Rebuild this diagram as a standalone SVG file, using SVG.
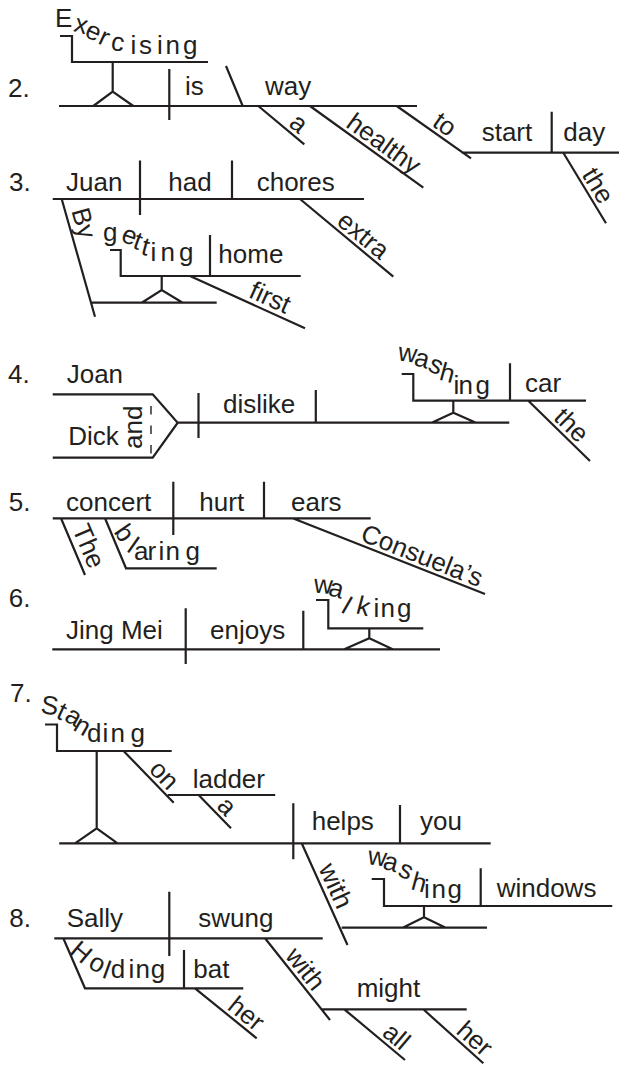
<svg xmlns="http://www.w3.org/2000/svg" width="619" height="1066" viewBox="0 0 619 1066">
<style>
.w{font-family:"Liberation Sans",Arial,Helvetica,sans-serif;font-size:26px;fill:#231f20}
.l{stroke:#231f20;stroke-width:2.2;fill:none}
.d{stroke:#231f20;stroke-width:1.4;fill:none;stroke-dasharray:8.5 11}
</style>
<rect width="619" height="1066" fill="#ffffff"/>
<g id="connectors">
<g id="lines-2">
<path class="l" d="M59,106 H417 M60,36 H72 V62 H208 M112.7,62 V91.7 M93.3,106 L112.7,91.7 L133.3,106 M169.3,69 V120 M226,66 L242.7,106 M258.3,106 L304.3,144.3 M310,106 L423.3,187.7 M396.7,106 L471,158.3 M461.7,152.7 H619 M551.7,111.7 V152.7 M563.3,152.7 L606,223.3"/>
</g>
<g id="lines-3">
<path class="l" d="M52.7,199 H364 M140,160.5 V215 M232,160.5 V199 M300,199 L393.3,276.7 M61.7,199 L95,316.7 M91,302.7 H216.7 M161.7,276 V290 M141.7,302.7 L161.7,290 L182.7,302.7 M110,250 H120.7 V276 H300.7 M210,235 V276 M190,276 L305,328.3"/>
</g>
<g id="lines-4">
<path class="l" d="M52.7,394.3 H152.7 L177.7,422.7 L152.7,457.7 H52.7 M177.7,422.7 H509.3 M198.5,393 V438 M315.8,390 V422.7 M453.3,400.7 V412.7 M431.7,422.7 L453.3,412.7 L476,422.7 M401.7,374 H413.3 V400.7 H586 M510,363.3 V400.7 M528.3,400.7 L590,461"/>
<path class="d" d="M151,406 V456"/>
</g>
<g id="lines-5">
<path class="l" d="M52.7,518.3 H370.7 M173.3,481.7 V535 M264,481.7 V518.3 M292.7,518.3 L485,594 M61,518.3 L85,575 M105,518.3 L126,568.3 H216.7"/>
</g>
<g id="lines-6">
<path class="l" d="M52.3,649.3 H440 M185.7,608.3 V664 M303.3,610.7 V649.3 M316,600 H328.3 V628.3 H423.3 M369.3,628.3 V638.3 M344.3,649.3 L369.3,638.3 L392.7,649.3"/>
</g>
<g id="lines-7">
<path class="l" d="M45,724.5 H57 V751 H171.7 M96.7,751 V828.3 M75,843.3 L96.7,828.3 L117.6,843.3 M59.2,843.3 H490.7 M123.6,751 L173.7,802.7 M167.8,795 H275.2 M198.6,795 L231,828.3 M293.3,803.3 V859.3 M400,805 V843.3 M301.7,843.3 L347.5,945 M341.7,927.7 H487 M424,906 V917.3 M402.7,927.7 L424,917.3 L445.7,927.7 M371.7,879 H384 V906 H612.3 M480.7,868.3 V906"/>
</g>
<g id="lines-8">
<path class="l" d="M54.3,938.3 H322.7 M169.3,891.7 V956 M63.3,938.3 L85,988.3 H243.3 M184,950 V988.3 M195,988.3 L256.7,1038.3 M265,938.3 L330,1020 M321,1009.3 H466.7 M344.3,1009.3 L405,1060 M423.3,1009.3 L483.3,1063.3"/>
</g>
</g>
<g id="sentence-2">
<text class="w" x="8" y="97">2.</text>
<text class="w" x="55 72.7 83.5 97 110 130.5 139 157 165.5 183" y="26.7 31 36 43 49.5 54.3 54.3 54.3 54.3 54.3" rotate="0 15 25 25 10 0 0 0 0 0">Exercising</text>
<text class="w" x="185" y="95">is</text>
<text class="w" x="265" y="95">way</text>
<text class="w" transform="translate(258.3,106) rotate(39.8)" x="35" y="-4">a</text>
<text class="w" transform="translate(310,106) rotate(35.8)" x="40" y="-4">healthy</text>
<text class="w" transform="translate(396.7,106) rotate(35.1)" x="39" y="-4">to</text>
<text class="w" x="481.7" y="141">start</text>
<text class="w" x="563.3" y="141">day</text>
<text class="w" transform="translate(563.3,152.7) rotate(58.8)" x="28" y="-4">the</text>
</g>
<g id="sentence-3">
<text class="w" x="9" y="190.7">3.</text>
<text class="w" x="66" y="190.7">Juan</text>
<text class="w" x="168.3" y="190.7">had</text>
<text class="w" x="256.7" y="190.7">chores</text>
<text class="w" transform="translate(300,199) rotate(39.8)" x="43" y="-4">extra</text>
<text class="w" transform="translate(61.7,199) rotate(74.2)" x="14" y="-6">By</text>
<text class="w" x="103 120 131.7 140 150.5 160.5 179" y="240.5 241 247.7 254 261 261 261" rotate="0 20 20 15 0 0 0">getting</text>
<text class="w" x="218.3" y="263.3">home</text>
<text class="w" transform="translate(190,276) rotate(24.5)" x="61" y="-5">first</text>
</g>
<g id="sentence-4">
<text class="w" x="8" y="383.3">4.</text>
<text class="w" x="66.7" y="383.3">Joan</text>
<text class="w" x="68.3" y="445">Dick</text>
<text class="w" transform="translate(142,449) rotate(-90)" x="0" y="0">and</text>
<text class="w" x="223" y="413.3">dislike</text>
<text class="w" x="397.3 413 426.7 438.3 453.5 458.5 475.5" y="360.3 365 370 379.5 393.5 393.5 393.5" rotate="8 15 25 15 0 0 0">washing</text>
<text class="w" x="525" y="391.7">car</text>
<text class="w" transform="translate(528.3,400.7) rotate(44.3)" x="30" y="-4">the</text>
</g>
<g id="sentence-5">
<text class="w" x="8.7" y="511">5.</text>
<text class="w" x="66" y="511">concert</text>
<text class="w" x="199.3" y="511">hurt</text>
<text class="w" x="291" y="511">ears</text>
<text class="w" transform="translate(292.7,518.3) rotate(21.5)" x="70" y="-4">Consuela’s</text>
<text class="w" transform="translate(61,518.3) rotate(67)" x="14" y="-6">The</text>
<text class="w" x="113.2 125.8 134 147.5 158.5 165.5 185.5" y="532.1 550.7 560 560 560 560 560" rotate="55 35 0 0 0 0 0">blaring</text>
</g>
<g id="sentence-6">
<text class="w" x="8.7" y="607">6.</text>
<text class="w" x="66" y="639.3">Jing Mei</text>
<text class="w" x="210" y="639.3">enjoys</text>
<text class="w" x="313.3 327.3 340 355 373.5 380.5 397" y="592.5 595 611.7 613 617.3 617.3 617.3" rotate="5 15 30 15 0 0 0">walking</text>
</g>
<g id="sentence-7">
<text class="w" x="10" y="702">7.</text>
<text class="w" x="40 55 63.3 72 87 102.5 110.5 130.5" y="713 717.5 720 729.5 741.7 741.7 741.7 741.7" rotate="8 25 30 30 0 0 0 0">Standing</text>
<text class="w" transform="translate(123.6,751) rotate(46)" x="31" y="-4">on</text>
<text class="w" x="192.7" y="788.3">ladder</text>
<text class="w" transform="translate(198.6,795) rotate(45.8)" x="20.5" y="-4">a</text>
<text class="w" x="311.7" y="830">helps</text>
<text class="w" x="420" y="830">you</text>
<text class="w" transform="translate(301.7,843.3) rotate(65.8)" x="29.5" y="-5">with</text>
<text class="w" x="367 381.7 396.7 410 424 431.5 447.5" y="864 868.5 875 889 898 898 898" rotate="8 15 25 15 0 0 0">washing</text>
<text class="w" x="496.7" y="896.7">windows</text>
</g>
<g id="sentence-8">
<text class="w" x="9.3" y="927.3">8.</text>
<text class="w" x="66.7" y="927">Sally</text>
<text class="w" x="198.3" y="927">swung</text>
<text class="w" x="68.6 86.9 101.2 110.7 128.5 135.5 150.7" y="952.7 967.1 977.3 978.3 978.3 978.3 978.3" rotate="40 30 20 0 0 0 0">Holding</text>
<text class="w" x="193.3" y="978.3">bat</text>
<text class="w" transform="translate(195,988.3) rotate(39)" x="37" y="-4">her</text>
<text class="w" transform="translate(265,938.3) rotate(51.5)" x="26" y="-4">with</text>
<text class="w" x="356.7" y="996.7">might</text>
<text class="w" transform="translate(344.3,1009.3) rotate(39.9)" x="44.5" y="-4">all</text>
<text class="w" transform="translate(423.3,1009.3) rotate(42)" x="39" y="-4">her</text>
</g>
</svg>
